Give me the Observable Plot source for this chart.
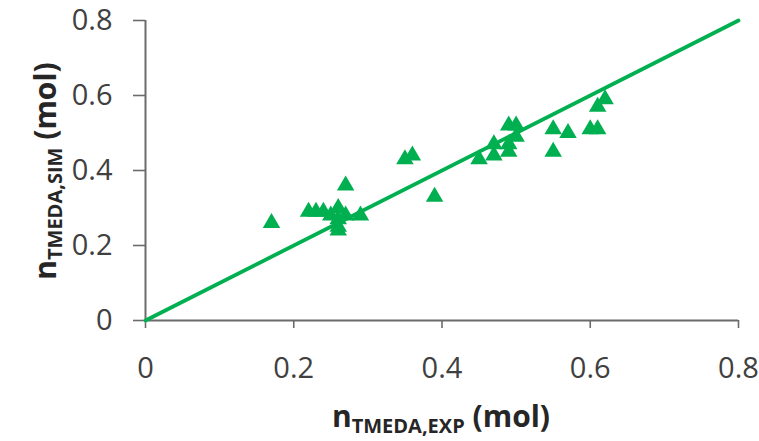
<!DOCTYPE html>
<html>
<head>
<meta charset="utf-8">
<script src="https://cdn.jsdelivr.net/npm/d3@7"></script>
<script src="https://cdn.jsdelivr.net/npm/@observablehq/plot@0.6"></script>
<style>
  html, body { margin: 0; padding: 0; background: #fff; }
  svg { font-family: "Open Sans", Lato, sans-serif; }
</style>
</head>
<body>
<div id="chart"></div>
<script>
const expValues = [0.17, 0.22, 0.23, 0.24, 0.25, 0.26, 0.26, 0.26, 0.26, 0.27, 0.27, 0.29,
  0.35, 0.36, 0.39, 0.45, 0.47, 0.47, 0.49, 0.49, 0.49, 0.50, 0.50, 0.55, 0.55, 0.57,
  0.60, 0.61, 0.61, 0.62];
const simValues = [0.26, 0.29, 0.29, 0.29, 0.28, 0.30, 0.27, 0.25, 0.24, 0.28, 0.36, 0.28,
  0.43, 0.44, 0.33, 0.43, 0.44, 0.47, 0.45, 0.47, 0.52, 0.52, 0.49, 0.51, 0.45, 0.50,
  0.51, 0.51, 0.57, 0.59];
const parityLine = [0, 0.8];
const xTicks = [0, 0.2, 0.4, 0.6, 0.8];
const yTicks = [0, 0.2, 0.4, 0.6, 0.8];

const points = expValues.map((x, i) => ({x, y: simValues[i]}));
const lineData = parityLine.map(v => ({x: v, y: v}));

const green = "#00B050";
const axisColor = "#6b6b6b";
const textColor = "#404040";
const fmt = d => d === 0 ? "0" : d3.format(".1f")(d);

const chart = Plot.plot({
  width: 759,
  height: 441,
  marginLeft: 145,
  marginRight: 21,
  marginTop: 20,
  marginBottom: 121,
  style: {fontFamily: "'Open Sans', Lato, sans-serif", color: textColor, background: "#fff"},
  x: {domain: [0, 0.8], label: null},
  y: {domain: [0, 0.8], label: null},
  marks: [
    Plot.axisX({ticks: xTicks, tickFormat: fmt, tickSize: 8, tickPadding: 29, fontSize: 29, stroke: axisColor, strokeWidth: 1.6, label: null, fill: textColor}),
    Plot.axisY({ticks: yTicks, tickFormat: fmt, tickSize: 12, tickPadding: 21, fontSize: 29, stroke: axisColor, strokeWidth: 1.6, label: null, fill: textColor}),
    Plot.ruleX([0], {stroke: axisColor, strokeWidth: 2}),
    Plot.ruleY([0], {stroke: axisColor, strokeWidth: 2}),
    Plot.line(lineData, {x: "x", y: "y", stroke: green, strokeWidth: 3.8}),
    Plot.dot(points, {x: "x", y: "y", symbol: "triangle", r: 6.5, fill: green, stroke: "none"})
  ]
});

const svg = d3.select(chart);
// x axis label
const xl = svg.append("text")
  .attr("x", 441).attr("y", 427)
  .attr("text-anchor", "middle")
  .attr("font-weight", "bold")
  .attr("font-size", 30)
  .attr("fill", "#262626");
xl.append("tspan").text("n");
xl.append("tspan").attr("font-size", 20).attr("dy", 6).text("TMEDA,EXP");
xl.append("tspan").attr("dy", -6).text(" (mol)");

// y axis label
const yl = svg.append("text")
  .attr("transform", "translate(56,171) rotate(-90)")
  .attr("text-anchor", "middle")
  .attr("font-weight", "bold")
  .attr("font-size", 30)
  .attr("fill", "#262626");
yl.append("tspan").text("n");
yl.append("tspan").attr("font-size", 20).attr("dy", 6).text("TMEDA,SIM");
yl.append("tspan").attr("dy", -6).text(" (mol)");

document.getElementById("chart").appendChild(chart);
</script>
</body>
</html>
